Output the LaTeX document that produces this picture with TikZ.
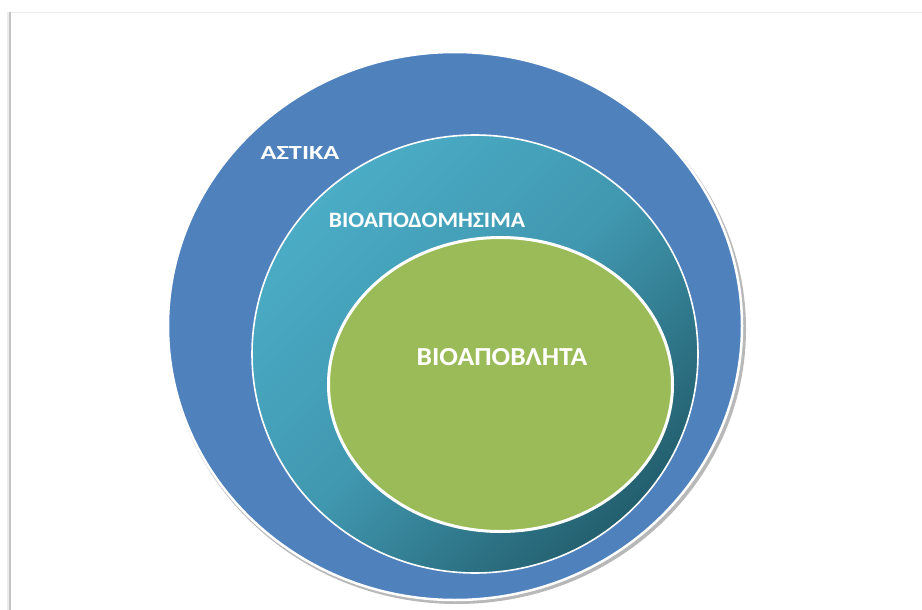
\documentclass[tikz,border=0pt]{standalone}
\usepackage{fontspec}
\setmainfont{Carlito}[BoldFont={Carlito Bold}]
\definecolor{outerblue}{HTML}{4F81BD}
\definecolor{teallight}{HTML}{4BACC6}
\definecolor{tealmid}{HTML}{4097AF}
\definecolor{tealdark}{HTML}{235F6E}
\definecolor{greenfill}{HTML}{9BBB59}
\definecolor{framegray}{HTML}{C4C4C4}
\tikzset{
  lbl/.style={text=white, inner sep=0pt, anchor=center},
}
\begin{document}
\begin{tikzpicture}[x=1pt,y=-1pt]
\useasboundingbox (0,0) rectangle (922,610);
\fill[white] (0,0) rectangle (922,610);
% frame
\draw[line width=0.8pt, black!8] (10,12) -- (922,12);
\draw[line width=3pt, black!7] (8,12) -- (8,610);
\draw[line width=1.2pt, framegray] (10,12) -- (10,610);
% outer
\fill[black!28] (457,329) ellipse [x radius=289pt, y radius=275pt];
\fill[outerblue, draw=white, line width=2.5pt] (455,326) ellipse [x radius=287pt, y radius=274pt];
% middle
\shade[top color=teallight, bottom color=tealdark, middle color=tealmid, shading angle=45]
  (475,354) ellipse [x radius=223pt, y radius=219pt];
\draw[white, line width=1.6pt] (475,354) ellipse [x radius=223pt, y radius=219pt];
% inner
\fill[greenfill, draw=white, line width=3pt] (500.5,384.5) ellipse [x radius=172pt, y radius=147pt];
% labels
\node[lbl, font=\bfseries\fontsize{20}{24}\selectfont, xscale=1.32] (astika) at (300,153) {ΑΣΤΙΚΑ};
\node[lbl, font=\bfseries\fontsize{22}{26}\selectfont, xscale=1.07] (bioapod) at (427,220) {ΒΙΟΑΠΟΔΟΜΗΣΙΜΑ};
\node[lbl, font=\bfseries\fontsize{26}{30}\selectfont, xscale=1.06] (bioapob) at (502,357) {ΒΙΟΑΠΟΒΛΗΤΑ};
\end{tikzpicture}
\end{document}
